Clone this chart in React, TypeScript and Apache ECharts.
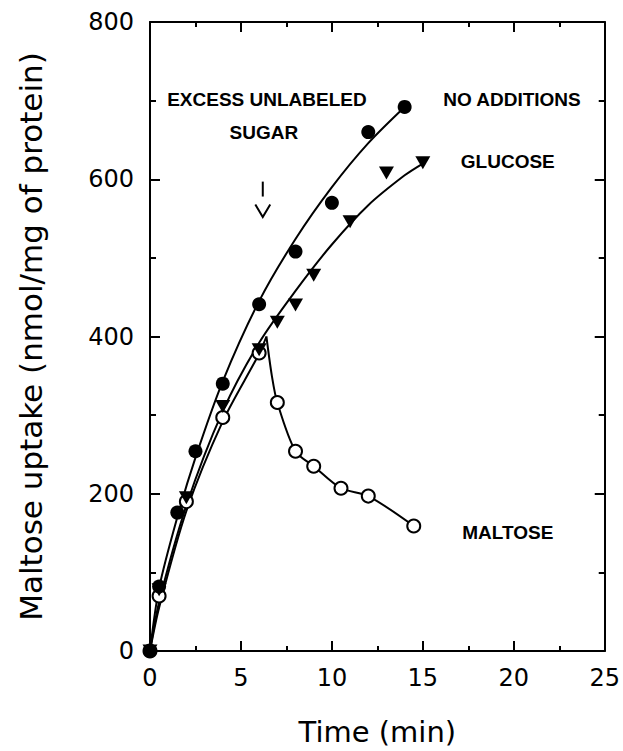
import React, { useEffect, useRef } from "react";
import * as echarts from "echarts";

// measured points
const noAdditions: number[][] = [[0, 0], [0.5, 82], [1.5, 176], [2.5, 254], [4, 340], [6, 441], [8, 508], [10, 570], [12, 660], [14, 692]];
const glucose: number[][] = [[0, 0], [0.5, 78], [2, 195], [4, 311], [6, 383], [7, 418], [8, 440], [9, 478], [11, 546], [13, 608], [15, 621]];
const maltose: number[][] = [[0, 0], [0.5, 70], [2, 190], [4, 297], [6, 379], [7, 316], [8, 254], [9, 235], [10.5, 207], [12, 197], [14.5, 159]];

// fitted curves
const fitNoAdditions: number[][] = [[0, 0], [0.5, 80], [1.5, 170], [2.5, 246], [4, 343], [6, 445], [8, 524], [10, 590], [12, 646], [14, 692]];
const fitGlucose: number[][] = [[0, 0], [0.5, 62], [2, 185], [4, 305], [6, 392], [8, 458], [10, 517], [12, 567], [14, 605], [15, 620]];
const fitMaltoseRise: number[][] = [[0, 0], [0.5, 55], [2, 178], [4, 292], [6, 378], [6.4, 400]];
const fitMaltoseFall: number[][] = [[6.4, 400], [6.7, 350], [7, 316], [8, 254], [9, 235], [10.5, 207], [12, 197], [14.5, 159]];

const annotations = [
  { text: "EXCESS UNLABELED", x: 6.43, y: 701 },
  { text: "SUGAR", x: 6.26, y: 659 },
  { text: "NO ADDITIONS", x: 19.9, y: 701 },
  { text: "GLUCOSE", x: 19.67, y: 623 },
  { text: "MALTOSE", x: 19.67, y: 151 },
];
const arrowAt = { x: 6.2, barTop: 597, barBottom: 578, vTop: 568, vBottom: 552, half: 0.41 };

const FONT = "DejaVu Sans";

export default function App() {
  const ref = useRef<HTMLDivElement>(null);
  useEffect(() => {
    if (!ref.current) return;
    const chart = echarts.init(ref.current, null, { renderer: "svg" });
    const axisLine = { show: true, onZero: false, lineStyle: { color: "#000", width: 2 } };
    const tick = { show: true, inside: true, length: 10, lineStyle: { color: "#000", width: 2 } };
    const xCommon = {
      type: "value" as const,
      min: 0,
      max: 25,
      interval: 5,
      axisLine,
      axisTick: tick,
      minorTick: { show: true, splitNumber: 2, length: 5, lineStyle: { color: "#000", width: 2 } },
      splitLine: { show: false },
    };
    const yCommon = {
      type: "value" as const,
      min: 0,
      max: 800,
      interval: 200,
      axisLine,
      axisTick: tick,
      minorTick: { show: true, splitNumber: 2, length: 6, lineStyle: { color: "#000", width: 2 } },
      splitLine: { show: false },
    };
    const lineSeries = (data: number[][]) => ({
      type: "line",
      data,
      smooth: 0.3,
      showSymbol: false,
      symbol: "none",
      lineStyle: { color: "#000", width: 2 },
      z: 2,
      silent: true,
    });
    chart.setOption({
      animation: false,
      backgroundColor: "#fff",
      grid: { left: 150, right: 18, top: 22, bottom: 99, containLabel: false },
      xAxis: [
        {
          ...xCommon,
          position: "bottom",
          axisLabel: { show: true, color: "#000", fontSize: 24, fontFamily: FONT, margin: 15 },
          name: "Time (min)",
          nameLocation: "middle",
          nameGap: 66,
          nameTextStyle: { color: "#000", fontSize: 29, fontFamily: FONT },
        },
        { ...xCommon, position: "top", axisLabel: { show: false } },
      ],
      yAxis: [
        {
          ...yCommon,
          position: "left",
          axisLabel: { show: true, color: "#000", fontSize: 24, fontFamily: FONT, margin: 16 },
          name: "Maltose uptake (nmol/mg of protein)",
          nameLocation: "middle",
          nameGap: 104,
          nameTextStyle: { color: "#000", fontSize: 31, fontFamily: FONT },
        },
        { ...yCommon, position: "right", axisLabel: { show: false } },
      ],
      series: [
        lineSeries(fitNoAdditions),
        lineSeries(fitGlucose),
        lineSeries(fitMaltoseRise),
        lineSeries(fitMaltoseFall),
        {
          type: "scatter",
          data: maltose,
          symbol: "circle",
          symbolSize: 13,
          itemStyle: { color: "#fff", borderColor: "#000", borderWidth: 2, opacity: 1 },
          z: 3,
        },
        {
          type: "scatter",
          data: glucose,
          symbol: "triangle",
          symbolRotate: 180,
          symbolSize: [15, 13],
          itemStyle: { color: "#000", opacity: 1 },
          z: 4,
        },
        {
          type: "scatter",
          data: noAdditions,
          symbol: "circle",
          symbolSize: 14,
          itemStyle: { color: "#000", opacity: 1 },
          z: 5,
        },
      ],
    });

    const px = (x: number, y: number) => chart.convertToPixel({ gridIndex: 0 }, [x, y]) as number[];
    const graphics: any[] = annotations.map((a) => {
      const p = px(a.x, a.y);
      return {
        type: "text",
        x: p[0],
        y: p[1],
        style: {
          text: a.text,
          fill: "#000",
          font: `bold 19px "Liberation Sans", Arial, sans-serif`,
          textAlign: "center",
          textVerticalAlign: "middle",
        },
      };
    });
    const b1 = px(arrowAt.x, arrowAt.barTop);
    const b2 = px(arrowAt.x, arrowAt.barBottom);
    const vL = px(arrowAt.x - arrowAt.half, arrowAt.vTop);
    const vB = px(arrowAt.x, arrowAt.vBottom);
    const vR = px(arrowAt.x + arrowAt.half, arrowAt.vTop);
    graphics.push({ type: "line", shape: { x1: b1[0], y1: b1[1], x2: b2[0], y2: b2[1] }, style: { stroke: "#000", lineWidth: 2 } });
    graphics.push({ type: "polyline", shape: { points: [vL, vB, vR] }, style: { stroke: "#000", fill: "none", lineWidth: 2 } });
    chart.setOption({ graphic: graphics });

    return () => chart.dispose();
  }, []);
  return <div ref={ref} style={{ width: 623, height: 751, position: "absolute", left: 0, top: 0 }} />;
}
